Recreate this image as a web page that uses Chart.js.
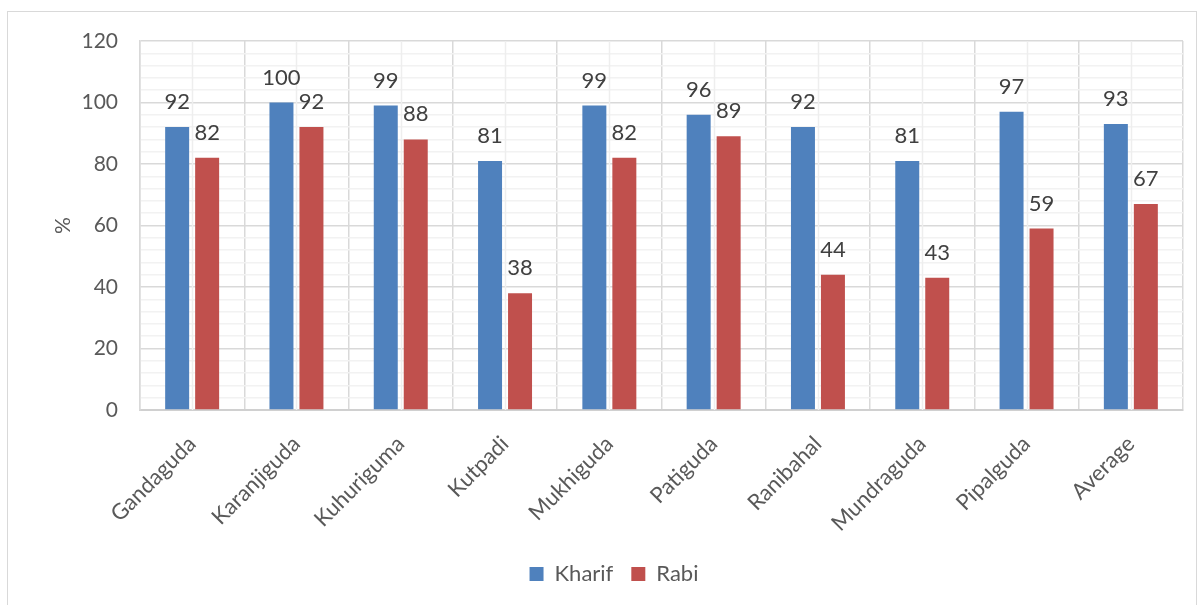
<!DOCTYPE html>
<html>
<head>
<meta charset="utf-8">
<title>Kharif / Rabi</title>
<script src="https://cdn.jsdelivr.net/npm/chart.js@4.4.1/dist/chart.umd.min.js"></script>
<style>
  html, body { margin: 0; padding: 0; background: #fff; overflow: hidden; }
  .frame {
    position: absolute; left: 7px; top: 11px; width: 1190px; height: 610px;
    border: 1.5px solid #d9d9d9; box-sizing: border-box;
  }
  .wrap { position: absolute; left: 0; top: 0; width: 1201px; height: 605px; }
</style>
</head>
<body>
<div class="frame"></div>
<div class="wrap"><canvas id="chart" width="1201" height="605"></canvas></div>
<script>
// villages + average, % values per season
const villages = ['Gandaguda', 'Karanjiguda', 'Kuhuriguma', 'Kutpadi', 'Mukhiguda',
                  'Patiguda', 'Ranibahal', 'Mundraguda', 'Pipalguda', 'Average'];
const kharif = [92, 100, 99, 81, 99, 96, 92, 81, 97, 93];
const rabi   = [82, 92, 88, 38, 82, 89, 44, 43, 59, 67];
const yTicks = [0, 20, 40, 60, 80, 100, 120];

const FONT = 'Lato, "Open Sans", sans-serif';
const GREY = '#595959';

// light lines through the middle of every category
const centerLines = {
  id: 'centerLines',
  beforeDatasetsDraw(chart){
    const { ctx, chartArea, scales } = chart;
    ctx.save();
    ctx.strokeStyle = '#eeeeee';
    ctx.lineWidth = 1.5;
    villages.forEach((_, i) => {
      const x = Math.round(scales.x.getPixelForValue(i)) + 0.5;
      ctx.beginPath();
      ctx.moveTo(x, chartArea.top);
      ctx.lineTo(x, chartArea.bottom);
      ctx.stroke();
    });
    ctx.restore();
  }
};

// value printed over each bar
const barValues = {
  id: 'barValues',
  afterDatasetsDraw(chart){
    const { ctx } = chart;
    ctx.save();
    ctx.font = '22px ' + FONT;
    ctx.fillStyle = '#404040';
    ctx.textAlign = 'center';
    ctx.textBaseline = 'alphabetic';
    chart.data.datasets.forEach((ds, di) => {
      chart.getDatasetMeta(di).data.forEach((bar, i) => {
        ctx.fillText(String(ds.data[i]), bar.x, bar.y - 18);
      });
    });
    ctx.restore();
  }
};

new Chart(document.getElementById('chart'), {
  type: 'bar',
  data: {
    labels: villages,
    datasets: [
      { label: 'Kharif', data: kharif, backgroundColor: '#4f81bd' },
      { label: 'Rabi',   data: rabi,   backgroundColor: '#c0504d' }
    ]
  },
  options: {
    responsive: false,
    animation: false,
    categoryPercentage: 0.575,
    barPercentage: 0.8,
    // left padding wide enough that the legend sits under the plot a bit right of centre
    layout: { padding: { left: 45, top: 41, right: 18, bottom: 10 } },
    plugins: {
      tooltip: { enabled: false },
      legend: {
        position: 'bottom',
        labels: {
          boxWidth: 14, boxHeight: 14, padding: 18,
          color: GREY, font: { family: FONT, size: 22 }
        }
      }
    },
    scales: {
      x: {
        grid: { color: '#d9d9d9', lineWidth: 1.5, drawTicks: false },
        border: { color: '#d0d0d0', width: 2 },
        ticks: {
          color: GREY, font: { family: FONT, size: 22 },
          minRotation: 45, maxRotation: 45, padding: 21, autoSkip: false
        },
        afterFit: s => { s.height = 135; }
      },
      y: {
        min: 0, max: 120,
        grid: {
          drawTicks: false, lineWidth: 1.5,
          color: c => yTicks.includes(c.tick.value) ? '#d9d9d9' : '#f2f2f2'
        },
        border: { color: '#d9d9d9', width: 1.5 },
        ticks: {
          stepSize: 4, autoSkip: false, padding: 22,
          color: GREY, font: { family: FONT, size: 21 },
          callback: v => yTicks.includes(v) ? String(v) : ''
        },
        title: {
          display: true, text: '%', color: GREY,
          font: { family: FONT, size: 21 }, padding: { top: 6, bottom: 0 }
        },
        afterFit: s => { s.width = 95; }
      }
    }
  },
  plugins: [centerLines, barValues]
});
</script>
</body>
</html>
